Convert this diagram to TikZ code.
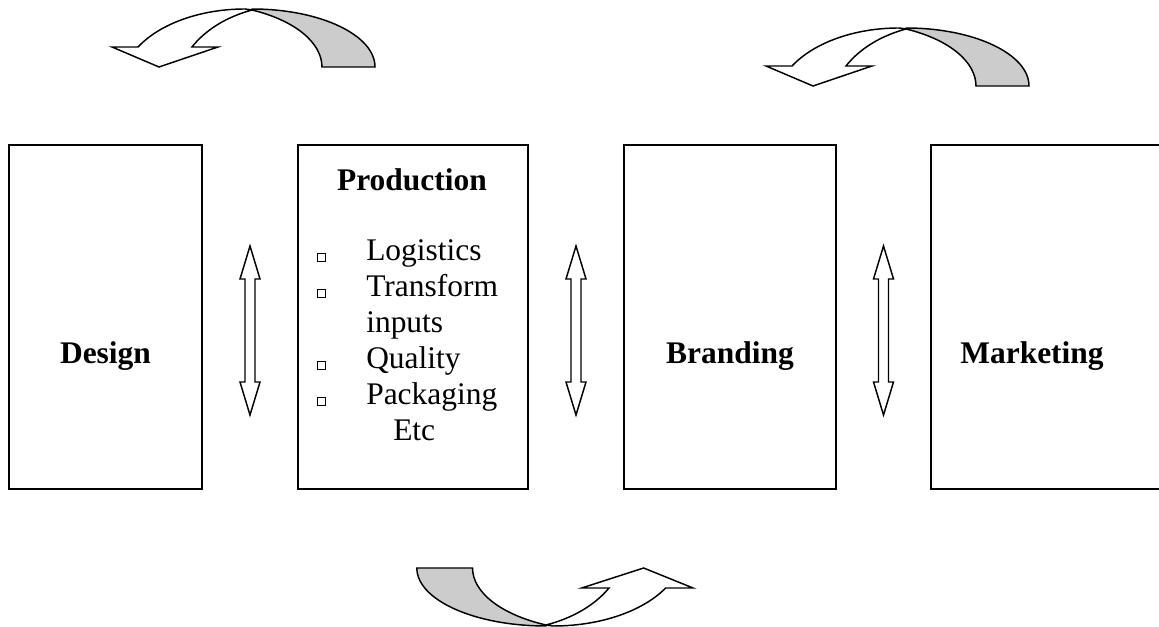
\documentclass[tikz,border=0pt]{standalone}
\usepackage{fontspec}
\setmainfont{Liberation Serif}
\usetikzlibrary{fit,calc,shadows}
\definecolor{backgray}{RGB}{204,204,204}
\tikzset{
  box/.style={draw, line width=1.3pt, inner sep=0pt},
  bandline/.style={line width=1.1pt, line join=miter},
  arrline/.style={line width=1.1pt, line join=miter},
  title/.style={font=\fontsize{23.6}{28}\selectfont\bfseries, inner sep=0pt, anchor=base},
  item/.style={font=\fontsize{23.6}{28}\selectfont, inner sep=0pt, anchor=base west},
  bul/.style={draw, line width=0.6pt, fill=white, minimum size=6pt, inner sep=0pt,
    drop shadow={shadow xshift=1pt, shadow yshift=-1pt, fill=black, opacity=1}}
}
\newcommand\CurvedBand{%
  \filldraw[bandline, fill=backgray] (123,-57) arc[start angle=0,end angle=90,x radius=123,y radius=58]
     -- (0,0) arc[start angle=65,end angle=0,x radius=121.2,y radius=62.9] -- cycle;
  \filldraw[bandline, fill=white] (0,0) -- (-7,1) arc[start angle=90,end angle=150,x radius=123.5,y radius=76]
     -- (-140,-37) -- (-93,-57) -- (-34,-37) -- (-60,-37)
     arc[start angle=150,end angle=110,x radius=114.5,y radius=84.1] -- cycle;}
\newcommand\BiArrow{%
  \filldraw[arrline, fill=white] (0,71) -- (10,38) -- (5,38) -- (5,-65) -- (10,-65) -- (0,-98)
     -- (-10,-65) -- (-5,-65) -- (-5,38) -- (-10,38) -- cycle;}
\begin{document}
\begin{tikzpicture}[x=0.75pt,y=0.75pt]
\clip (0,0) rectangle (1159,627);
\fill[white] (0,0) rectangle (1159,627);
% boxes
\node[box, fit={(9,138) (202,482)}] (design) {};
\node[box, fit={(298,138) (528,482)}] (prod) {};
\node[box, fit={(624,138) (836,482)}] (brand) {};
\node[box, fit={(931,138) (1220,482)}] (mkt) {};
% titles
\node[title] (tdesign) at (105.5,263) {Design};
\node[title] (tprod) at (412,436) {Production};
\node[title] (tbrand) at (730,263) {Branding};
\node[title] (tmkt) at (1032,263) {Marketing};
% list
\node[item] (l1) at (366,366) {Logistics};
\node[item] (l2) at (366,330) {Transform};
\node[item] (l3) at (366,294) {inputs};
\node[item] (l4) at (366,258) {Quality};
\node[item] (l5) at (366,222) {Packaging};
\node[item] (l6) at (393,186) {Etc};
\node[bul] (b1) at (321,370) {};
\node[bul] (b2) at (321,334) {};
\node[bul] (b3) at (321,262) {};
\node[bul] (b4) at (321,226) {};
% double arrows between boxes
\coordinate (m1) at ($(design.east)!0.5!(prod.west)$);
\coordinate (m2) at ($(prod.east)!0.5!(brand.west)$);
\coordinate (m3) at ($(brand.east)!0.5!(mkt.west)$);
\begin{scope}[shift={(m1)}]\BiArrow\end{scope}
\begin{scope}[shift={(m2)}]\BiArrow\end{scope}
\begin{scope}[shift={(m3)}]\BiArrow\end{scope}
% curved arrows
\coordinate (c1) at (252,617);
\coordinate (c2) at (906,598);
\coordinate (c3) at (546,2);
\begin{scope}[shift={(c1)}]\CurvedBand\end{scope}
\begin{scope}[shift={(c2)}]\CurvedBand\end{scope}
\begin{scope}[shift={(c3)}, rotate=180, xscale=1.05]\CurvedBand\end{scope}
\end{tikzpicture}
\end{document}
